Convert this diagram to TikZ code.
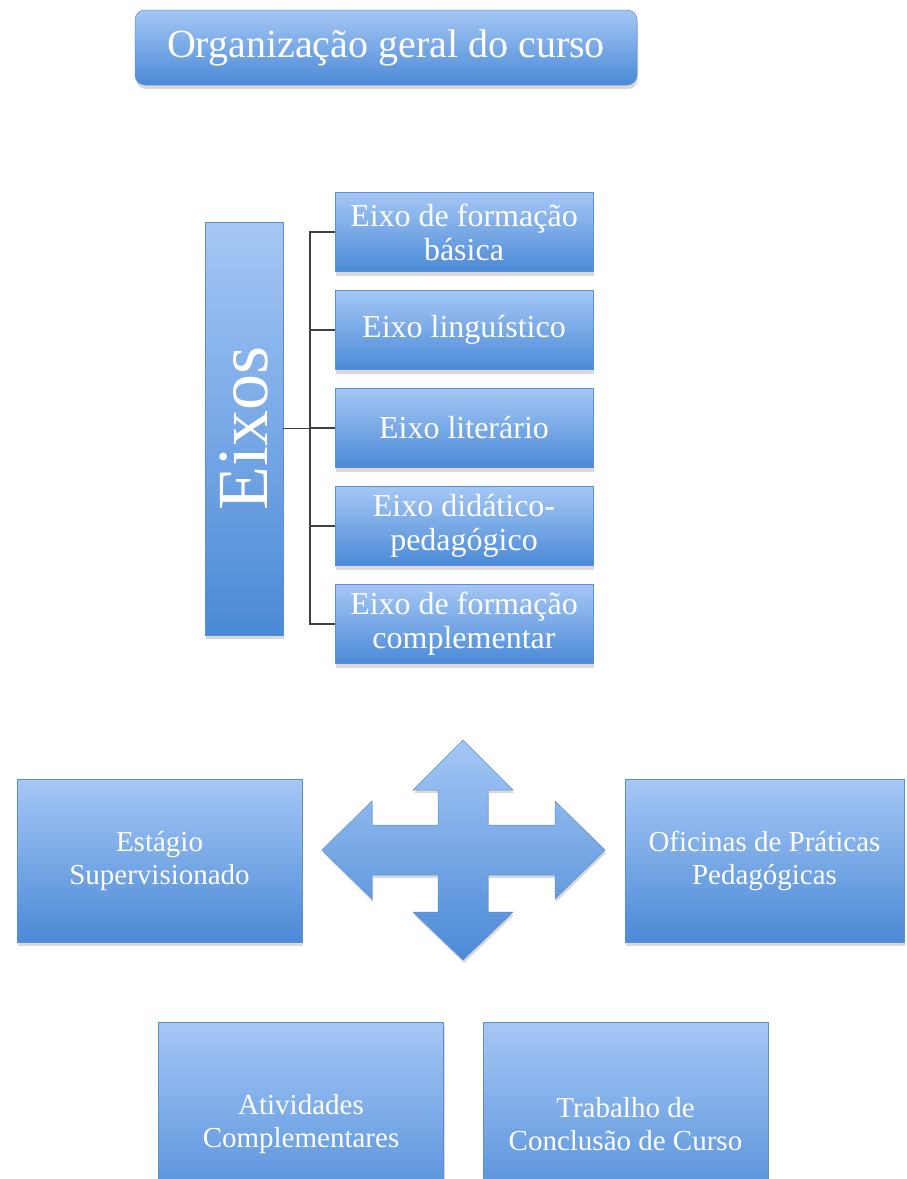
\documentclass[tikz,border=0pt]{standalone}
\usepackage{fontspec}
\setmainfont{Liberation Serif}
\usetikzlibrary{shadows,positioning}
\definecolor{boxtop}{HTML}{A5C7F5}
\definecolor{boxbot}{HTML}{4B8AD7}
\definecolor{boxline}{HTML}{5A8FD2}
\definecolor{linkgray}{HTML}{404040}
\tikzset{
  bluebox/.style={shade,top color=boxtop,bottom color=boxbot,draw=boxline,line width=.5pt,
    text=white,align=center,inner sep=0pt,
    drop shadow={shadow xshift=1pt,shadow yshift=-4pt,opacity=.3}},
  axisbox/.style={bluebox,minimum width=258,minimum height=79,
    font=\fontsize{32}{34}\selectfont},
  wide/.style={bluebox,minimum width=285,minimum height=163,
    font=\fontsize{29}{33}\selectfont},
  tree/.style={draw=linkgray,line width=1.2pt}
}
\begin{document}
\begin{tikzpicture}[x=1pt,y=-1pt]
  \useasboundingbox (0,0) rectangle (906,1179);
  % title
  \node[bluebox,rounded corners=10pt,minimum width=502,minimum height=75,
    font=\fontsize{40}{44}\selectfont] (title) at (386,47.5) {Organização geral do curso};
  % axes
  \node[bluebox,minimum width=78,minimum height=413,
    font=\fontsize{72}{72}\selectfont] (eixos) at (244,428.5) {\rotatebox{90}{Eixos}};
  \node[axisbox] (ax1) at (464,232) {Eixo de formação\\básica};
  \node[axisbox] (ax2) at (464,330) {Eixo linguístico};
  \node[axisbox] (ax3) at (464,428) {Eixo literário};
  \node[axisbox] (ax4) at (464,526) {Eixo didático-\\pedagógico};
  \node[axisbox] (ax5) at (464,624) {Eixo de formação\\complementar};
  \coordinate (hub) at (310,428.5);
  \foreach \i in {1,...,5}
    \draw[tree] (eixos.east) -- (hub) |- (ax\i.west);
  % components
  \node[wide,minimum width=285] (estagio) at (159.5,860.5) {Estágio\\Supervisionado};
  \node[wide,minimum width=279] (oficinas) at (764.5,860.5) {Oficinas de Práticas\\Pedagógicas};
  \node[wide,minimum height=204] (ativ) at (301,1124) {Atividades\\Complementares};
  \node[wide,minimum height=204] (tcc) at (625.5,1124) {Trabalho de\\Conclusão de Curso};
  % four-way arrow
  \path[shift={(463,850)},shade,top color=boxtop,bottom color=boxbot,draw=boxline,line width=.5pt,
    drop shadow={shadow xshift=1pt,shadow yshift=-3pt,opacity=.3}]
    (0,-110) -- (50,-60) -- (25,-60) -- (25,-25) -- (92,-25) -- (92,-49) -- (142,0)
    -- (92,49) -- (92,25) -- (25,25) -- (25,62) -- (50,62) -- (0,110) -- (-50,62)
    -- (-25,62) -- (-25,25) -- (-91,25) -- (-91,49) -- (-141,0) -- (-91,-49)
    -- (-91,-25) -- (-25,-25) -- (-25,-60) -- (-50,-60) -- cycle;
\end{tikzpicture}
\end{document}
